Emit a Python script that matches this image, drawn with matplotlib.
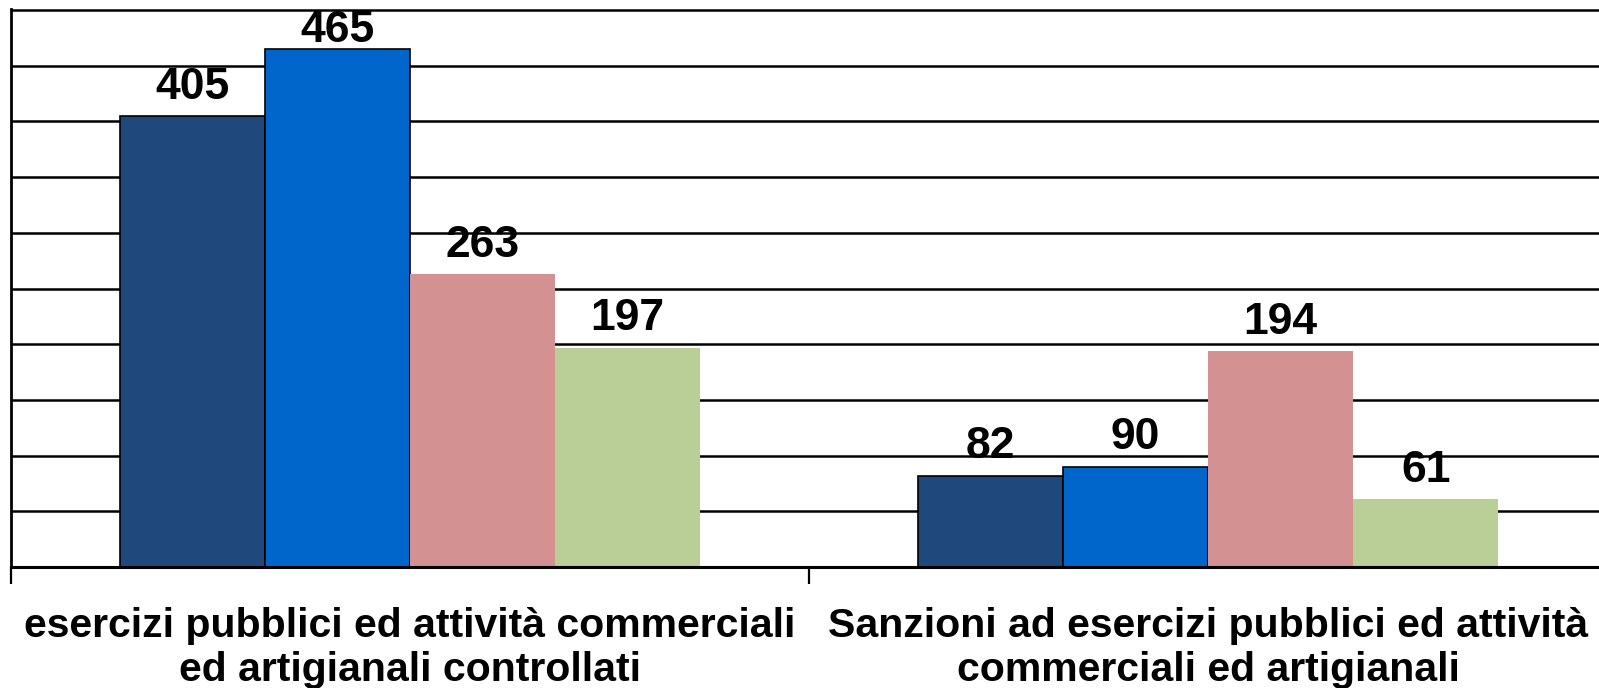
import matplotlib.pyplot as plt
import numpy as np

# Controlli ed esiti: due gruppi, quattro serie ciascuno
categorie = ["esercizi pubblici ed attività commerciali\ned artigianali controllati",
             "Sanzioni ad esercizi pubblici ed attività\ncommerciali ed artigianali"]
serie_1 = [405, 82]
serie_2 = [465, 90]
serie_3 = [263, 194]
serie_4 = [197, 61]

colori = ["#1F497D", "#0066CC", "#D39291", "#BACF97"]
bordi = ["black", "black", "none", "none"]

plt.rcParams['font.family'] = ['Liberation Sans', 'DejaVu Sans']
plt.rcParams['font.weight'] = 'bold'

fig = plt.figure(figsize=(15.99, 6.88), dpi=100)
ax = fig.add_axes([11/1599, 121/688, 1596/1599, 558/688])

ax.set_xlim(-0.5, 1.5)
ax.set_ylim(0, 501)

x = np.arange(len(categorie))
w = 1 / 5.5  # larghezza barra con spazio tra gruppi del 150%
valori = [serie_1, serie_2, serie_3, serie_4]
fs_val = 32
cap = fs_val * 0.716  # altezza cifre in punti
for i, v in enumerate(valori):
    pos = x + (i - 1.5) * w
    ax.bar(pos, v, width=w, color=colori[i], edgecolor=bordi[i], linewidth=1.2, zorder=2)
    for px, val in zip(pos, v):
        # etichetta sopra la barra, abbassata se uscirebbe dal grafico
        top_pt = (ax.transData.transform((px, val))[1]) * 72 / fig.dpi
        fig_h_pt = fig.get_figheight() * 72
        off = min(12.5, fig_h_pt - 7 - cap - top_pt)
        ax.annotate(str(val), (px, val), xytext=(0, off), textcoords="offset points",
                    ha="center", va="baseline", fontsize=fs_val, fontweight="bold",
                    annotation_clip=False)

ax.set_yticks(np.arange(0, 501, 50))
ax.yaxis.grid(True, color="black", linewidth=1.8)
ax.set_axisbelow(True)
ax.tick_params(axis="y", length=0, labelleft=False)

# etichette al centro, tacche tra le categorie
ax.set_xticks(x)
ax.set_xticklabels(categorie, fontsize=29.5, fontweight="bold", linespacing=1.18)
ax.set_xticks([-0.5, 0.5, 1.5], minor=True)
ax.tick_params(axis="x", which="major", length=0, pad=29)
ax.tick_params(axis="x", which="minor", length=12, width=1.6, color="black")

for s in ["top", "right"]:
    ax.spines[s].set_visible(False)
ax.spines["left"].set_linewidth(2)
ax.spines["bottom"].set_linewidth(2.2)

fig.savefig("out.png", dpi=100)
